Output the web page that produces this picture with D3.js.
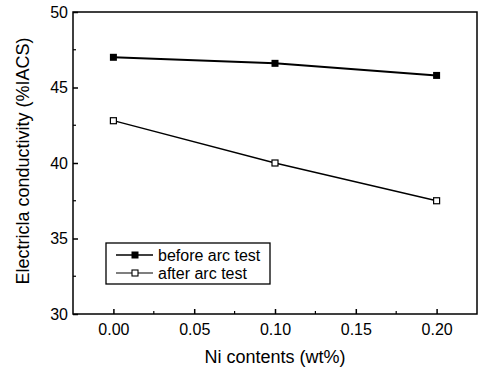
<!DOCTYPE html>
<html>
<head>
<meta charset="utf-8">
<script src="https://cdn.jsdelivr.net/npm/d3@7/dist/d3.min.js"></script>
<style>
  body { margin: 0; background: #fff; }
  svg { display: block; font-family: Arial, "Liberation Sans", sans-serif; }
</style>
</head>
<body>
<svg id="chart" width="480" height="370"></svg>
<script>
// Ni contents (wt%)
const niContents = [0.00, 0.10, 0.20];
// electrical conductivity (%IACS)
const beforeArc = [47.0, 46.6, 45.8];
const afterArc  = [42.8, 40.0, 37.5];
const xTicks = [0.00, 0.05, 0.10, 0.15, 0.20];
const yTicks = [30, 35, 40, 45, 50];
const seriesNames = ["before arc test", "after arc test"];

const margin = {top: 12, right: 3, bottom: 56, left: 73};
const width  = 480 - margin.left - margin.right;
const height = 370 - margin.top - margin.bottom;

const svg = d3.select("#chart");
const g = svg.append("g").attr("transform", `translate(${margin.left},${margin.top})`);

const x = d3.scaleLinear().domain([-0.025, 0.225]).range([0, width]);
const y = d3.scaleLinear().domain([30, 50]).range([height, 0]);

// frame
g.append("rect")
  .attr("width", width).attr("height", height)
  .attr("fill", "none").attr("stroke", "#000").attr("stroke-width", 1.5);

// minor ticks (inside)
const xMinor = d3.range(0, 8).map(i => -0.025 + i * 0.05).filter(v => v > -0.025 && v < 0.225);
g.selectAll(".xminor").data(xMinor).join("line")
  .attr("x1", d => x(d)).attr("x2", d => x(d))
  .attr("y1", height).attr("y2", height - 3)
  .attr("stroke", "#000").attr("stroke-width", 1.2);
const yMinor = [32.5, 37.5, 42.5, 47.5];
g.selectAll(".yminor").data(yMinor).join("line")
  .attr("x1", 0).attr("x2", 3)
  .attr("y1", d => y(d)).attr("y2", d => y(d))
  .attr("stroke", "#000").attr("stroke-width", 1.2);

// axes
const xAxis = g.append("g")
  .attr("transform", `translate(0,${height})`)
  .call(d3.axisBottom(x).tickValues(xTicks).tickFormat(d3.format(".2f")).tickSizeInner(-5).tickSizeOuter(0).tickPadding(10));
const yAxis = g.append("g")
  .call(d3.axisLeft(y).tickValues(yTicks).tickSizeInner(-5).tickSizeOuter(0).tickPadding(5));
[xAxis, yAxis].forEach(a => {
  a.select(".domain").remove();
  a.selectAll("line").attr("stroke", "#000").attr("stroke-width", 1.5);
  a.selectAll("text").attr("fill", "#000").style("font-size", "16px").style("font-family", "Arial, 'Liberation Sans', sans-serif");
});

// lines
const line = d3.line().x(d => x(d[0])).y(d => y(d[1]));
const beforePts = niContents.map((v, i) => [v, beforeArc[i]]);
const afterPts  = niContents.map((v, i) => [v, afterArc[i]]);

g.append("path").datum(beforePts).attr("d", line)
  .attr("fill", "none").attr("stroke", "#000").attr("stroke-width", 2);
g.append("path").datum(afterPts).attr("d", line)
  .attr("fill", "none").attr("stroke", "#000").attr("stroke-width", 1.3);

g.selectAll(".mb").data(beforePts).join("rect")
  .attr("x", d => x(d[0]) - 3.5).attr("y", d => y(d[1]) - 3.5)
  .attr("width", 7).attr("height", 7).attr("fill", "#000");
g.selectAll(".ma").data(afterPts).join("rect")
  .attr("x", d => x(d[0]) - 3).attr("y", d => y(d[1]) - 3)
  .attr("width", 6).attr("height", 6).attr("fill", "#fff")
  .attr("stroke", "#000").attr("stroke-width", 1.2);

// legend
const leg = svg.append("g").attr("transform", "translate(106,243)");
leg.append("rect").attr("width", 164).attr("height", 41)
  .attr("fill", "#fff").attr("stroke", "#000").attr("stroke-width", 1.3);
seriesNames.forEach((name, i) => {
  const ly = 12 + i * 18;
  leg.append("line").attr("x1", 10).attr("x2", 47).attr("y1", ly).attr("y2", ly)
    .attr("stroke", "#000").attr("stroke-width", i === 0 ? 1.5 : 1.1);
  if (i === 0) {
    leg.append("rect").attr("x", 25.5).attr("y", ly - 3.5).attr("width", 7).attr("height", 7).attr("fill", "#000");
  } else {
    leg.append("rect").attr("x", 26).attr("y", ly - 3).attr("width", 6).attr("height", 6)
      .attr("fill", "#fff").attr("stroke", "#000").attr("stroke-width", 1.1);
  }
  leg.append("text").attr("x", 52).attr("y", ly).attr("dy", "0.35em")
    .style("font-size", "16px").text(name);
});

// axis titles
svg.append("text")
  .attr("x", margin.left + width / 2).attr("y", 363)
  .attr("text-anchor", "middle").style("font-size", "18px")
  .text("Ni contents (wt%)");
svg.append("text")
  .attr("transform", `translate(29,${161}) rotate(-90)`)
  .attr("text-anchor", "middle").style("font-size", "18px")
  .text("Electricla conductivity (%IACS)");
</script>
</body>
</html>
